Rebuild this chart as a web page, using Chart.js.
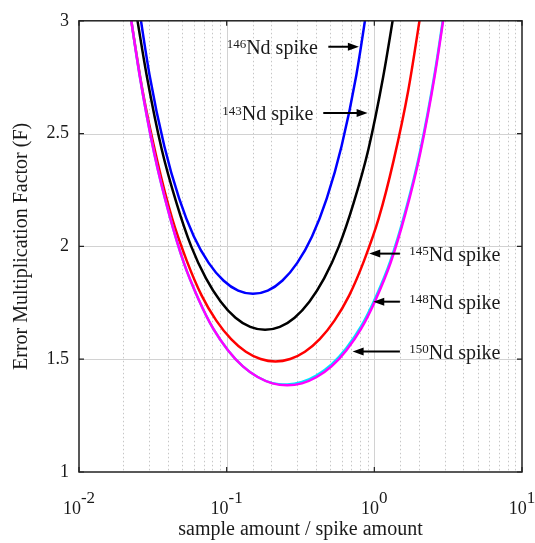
<!DOCTYPE html>
<html>
<head>
<meta charset="utf-8">
<script src="https://cdn.jsdelivr.net/npm/chart.js@4/dist/chart.umd.min.js"></script>
<style>
  html, body { margin: 0; padding: 0; background: #fff; }
  #wrap { width: 535px; height: 543px; position: relative; }
</style>
</head>
<body>
<div id="wrap"><canvas id="chart"></canvas></div>
<script>
// Curve readings: sample/spike ratio vs error multiplication factor F
const nd146X = [0.02388, 0.03006, 0.03784, 0.04764, 0.05998, 0.07551, 0.09506, 0.1197, 0.1507, 0.1897, 0.2388, 0.3006, 0.3784, 0.4764, 0.5998, 0.7551, 0.9506];
const nd146F = [3.182, 2.759, 2.444, 2.213, 2.044, 1.927, 1.849, 1.804, 1.79, 1.804, 1.849, 1.927, 2.044, 2.213, 2.444, 2.759, 3.182];

const nd143X = [0.02291, 0.02884, 0.03631, 0.04571, 0.05754, 0.07244, 0.0912, 0.1148, 0.1445, 0.182, 0.2291, 0.2884, 0.3631, 0.4571, 0.5754, 0.7244, 0.912, 1.1482, 1.4454];
const nd143F = [3.146, 2.752, 2.431, 2.193, 2.0, 1.858, 1.755, 1.684, 1.643, 1.63, 1.643, 1.684, 1.755, 1.858, 2.0, 2.193, 2.431, 2.752, 3.146];

const nd145X = [0.02138, 0.02692, 0.03388, 0.04266, 0.0537, 0.06761, 0.08511, 0.1072, 0.1349, 0.1698, 0.2138, 0.2692, 0.3388, 0.4266, 0.537, 0.6761, 0.8511, 1.0715, 1.349, 1.6982, 2.138];
const nd145F = [3.102, 2.692, 2.379, 2.125, 1.936, 1.783, 1.671, 1.589, 1.533, 1.501, 1.49, 1.501, 1.533, 1.589, 1.671, 1.783, 1.936, 2.125, 2.379, 2.692, 3.102];

const nd150X = [0.02042, 0.0257, 0.03236, 0.04074, 0.05129, 0.06457, 0.08128, 0.1023, 0.1288, 0.1622, 0.2042, 0.257, 0.3236, 0.4074, 0.5129, 0.6457, 0.8128, 1.0233, 1.2882, 1.6218, 2.0417, 2.5704, 3.2359];
const nd150F = [3.198, 2.761, 2.411, 2.144, 1.927, 1.765, 1.634, 1.539, 1.468, 1.421, 1.393, 1.384, 1.393, 1.421, 1.468, 1.539, 1.634, 1.765, 1.927, 2.144, 2.411, 2.761, 3.198];

const nd148X = nd150X;
const nd148F = [3.198, 2.761, 2.411, 2.144, 1.927, 1.765, 1.634, 1.539, 1.468, 1.421, 1.394, 1.388, 1.399, 1.429, 1.477, 1.549, 1.645, 1.776, 1.938, 2.155, 2.422, 2.772, 3.209];

// Annotations (data units)
const spikeIso = ['146', '143', '145', '148', '150'];
const arrowTailX = [0.488, 0.451, 1.49, 1.49, 1.49];
const arrowTipX = [0.786, 0.901, 0.924, 0.983, 0.713];
const arrowF = [2.885, 2.591, 1.968, 1.755, 1.534];
const labelX = [0.1, 0.0933, 1.723, 1.723, 1.723];

const FONT = 'Liberation Serif';
const INK = '#1a1a1a';

function toPoints(xs, ys) {
    return xs.map((x, i) => ({ x: x, y: ys[i] }));
}

function isPow10(v) {
    const l = Math.log10(v);
    return Math.abs(l - Math.round(l)) < 1e-9;
}

function curve(xs, ys, color) {
    return {
        data: toPoints(xs, ys),
        borderColor: color,
        borderWidth: 2.5,
        pointRadius: 0,
        cubicInterpolationMode: 'monotone',
        fill: false,
        clip: 0
    };
}

// grid, frame, tick labels and arrows drawn on top of the library scales
const overlay = {
    id: 'overlay',
    beforeDatasetsDraw(chart) {
        const ctx = chart.ctx;
        const xs = chart.scales.x, ys = chart.scales.y;
        const { left, right, top, bottom } = chart.chartArea;
        ctx.save();
        ctx.lineWidth = 1;
        xs.ticks.forEach(t => {
            if (t.value <= 0.01 || t.value >= 10) return;
            const px = Math.round(xs.getPixelForValue(t.value)) + 0.5;
            if (isPow10(t.value)) {
                ctx.strokeStyle = '#d2d2d2';
                ctx.setLineDash([]);
            } else {
                ctx.strokeStyle = '#c6c6c6';
                ctx.setLineDash([1.5, 2.5]);
            }
            ctx.beginPath();
            ctx.moveTo(px, top);
            ctx.lineTo(px, bottom);
            ctx.stroke();
        });
        ctx.setLineDash([]);
        ctx.strokeStyle = '#d2d2d2';
        ys.ticks.forEach(t => {
            if (t.value <= 1 || t.value >= 3) return;
            const py = Math.round(ys.getPixelForValue(t.value)) + 0.5;
            ctx.beginPath();
            ctx.moveTo(left, py);
            ctx.lineTo(right, py);
            ctx.stroke();
        });
        ctx.restore();
    },
    afterDatasetsDraw(chart) {
        const ctx = chart.ctx;
        const xs = chart.scales.x, ys = chart.scales.y;
        const { left, right, top, bottom } = chart.chartArea;
        ctx.save();

        // frame + inward ticks
        ctx.strokeStyle = '#222';
        ctx.lineWidth = 1.5;
        ctx.strokeRect(left, top, right - left, bottom - top);
        ctx.lineWidth = 1.2;
        xs.ticks.forEach(t => {
            if (!isPow10(t.value)) return;
            const px = xs.getPixelForValue(t.value);
            ctx.beginPath();
            ctx.moveTo(px, bottom); ctx.lineTo(px, bottom - 5);
            ctx.moveTo(px, top); ctx.lineTo(px, top + 5);
            ctx.stroke();
        });
        ys.ticks.forEach(t => {
            const py = ys.getPixelForValue(t.value);
            ctx.beginPath();
            ctx.moveTo(left, py); ctx.lineTo(left + 5, py);
            ctx.moveTo(right, py); ctx.lineTo(right - 5, py);
            ctx.stroke();
        });

        // x tick labels 10^n
        ctx.fillStyle = INK;
        ctx.textBaseline = 'alphabetic';
        ctx.textAlign = 'left';
        xs.ticks.forEach(t => {
            if (!isPow10(t.value)) return;
            const px = xs.getPixelForValue(t.value);
            const sup = String(Math.round(Math.log10(t.value)));
            ctx.font = '18px "' + FONT + '"';
            const wMain = ctx.measureText('10').width;
            ctx.font = '17px "' + FONT + '"';
            const wSup = ctx.measureText(sup).width;
            const x0 = px - (wMain + wSup) / 2;
            ctx.font = '18px "' + FONT + '"';
            ctx.fillText('10', x0, bottom + 41.5);
            ctx.font = '17px "' + FONT + '"';
            ctx.fillText(sup, x0 + wMain, bottom + 31);
        });

        // spike annotations
        spikeIso.forEach((iso, i) => {
            const ay = ys.getPixelForValue(arrowF[i]);
            const tail = xs.getPixelForValue(arrowTailX[i]);
            const tip = xs.getPixelForValue(arrowTipX[i]);
            const dir = tip > tail ? 1 : -1;
            ctx.strokeStyle = '#000';
            ctx.fillStyle = '#000';
            ctx.lineWidth = 2;
            ctx.beginPath();
            ctx.moveTo(tail, ay);
            ctx.lineTo(tip - dir * 8, ay);
            ctx.stroke();
            ctx.beginPath();
            ctx.moveTo(tip, ay);
            ctx.lineTo(tip - dir * 11, ay - 4);
            ctx.lineTo(tip - dir * 11, ay + 4);
            ctx.closePath();
            ctx.fill();

            const tx = xs.getPixelForValue(labelX[i]);
            const base = ay + 7;
            ctx.fillStyle = INK;
            ctx.font = '13px "' + FONT + '"';
            ctx.fillText(iso, tx, base - 5.5);
            const w = ctx.measureText(iso).width;
            ctx.font = '20px "' + FONT + '"';
            ctx.fillText('Nd spike', tx + w, base);
        });
        ctx.restore();
    }
};

const ctx = document.getElementById('chart').getContext('2d');
new Chart(ctx, {
    type: 'line',
    data: {
        datasets: [
            curve(nd150X, nd150F, '#ff00ff'),
            curve(nd148X, nd148F, '#00e5ff'),
            curve(nd145X, nd145F, '#ff0000'),
            curve(nd143X, nd143F, '#000000'),
            curve(nd146X, nd146F, '#0000ff')
        ]
    },
    options: {
        responsive: true,
        maintainAspectRatio: false,
        animation: false,
        layout: { padding: { top: 19, right: 13, left: 0, bottom: 0 } },
        plugins: { legend: { display: false }, tooltip: { enabled: false } },
        scales: {
            x: {
                type: 'logarithmic',
                min: 0.01,
                max: 10,
                ticks: { display: false },
                grid: { display: false, drawTicks: false },
                border: { display: false },
                title: {
                    display: true,
                    text: 'sample amount / spike amount',
                    color: INK,
                    font: { family: FONT, size: 20 },
                    padding: { top: 0, bottom: 1 }
                },
                afterFit(scale) { scale.height = 71; }
            },
            y: {
                type: 'linear',
                min: 1,
                max: 3,
                ticks: {
                    stepSize: 0.5,
                    color: INK,
                    font: { family: FONT, size: 18 },
                    padding: 10,
                    callback: v => String(v)
                },
                grid: { display: false, drawTicks: false },
                border: { display: false },
                title: {
                    display: true,
                    text: 'Error Multiplication Factor (F)',
                    color: INK,
                    font: { family: FONT, size: 20 },
                    padding: { top: 10, bottom: 0 }
                },
                afterFit(scale) { scale.width = 79; }
            }
        }
    },
    plugins: [overlay]
});
</script>
</body>
</html>
